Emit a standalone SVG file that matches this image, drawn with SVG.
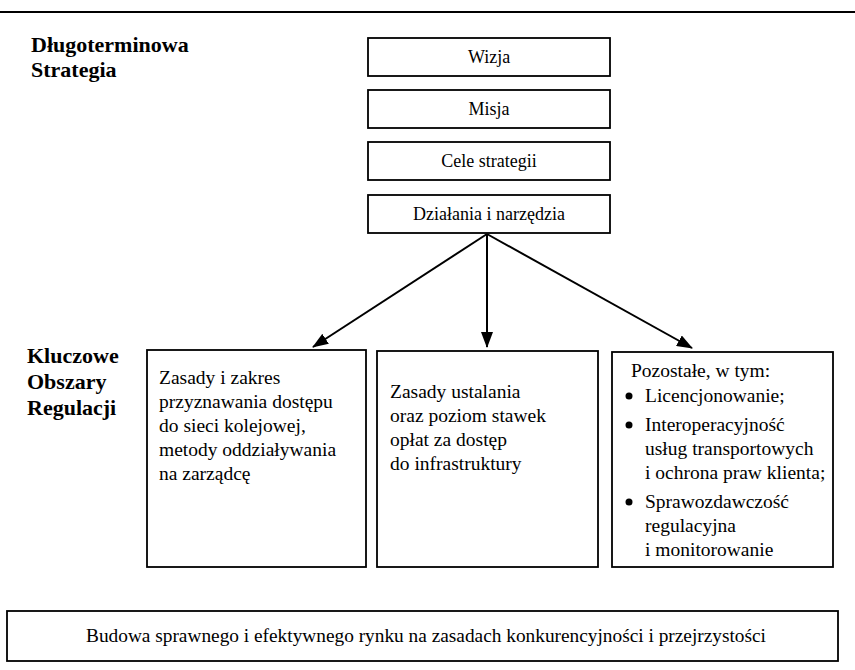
<svg xmlns="http://www.w3.org/2000/svg" width="855" height="670" viewBox="0 0 855 670">
<style>
.box{fill:#fff;stroke:#000;stroke-width:1.8}
.t{font-family:"Liberation Serif","Times New Roman",serif;font-size:18px;fill:#000}
.tc{text-anchor:middle}
.b{font-family:"Liberation Serif","Times New Roman",serif;font-size:22px;font-weight:bold;fill:#000}
.r{font-family:"Liberation Serif","Times New Roman",serif;font-size:19.5px;fill:#000}
.conn{stroke:#000;stroke-width:2;fill:none}
</style>
<defs>
<marker id="ah" markerUnits="userSpaceOnUse" markerWidth="16" markerHeight="12" refX="15" refY="6" orient="auto">
<path d="M0,0 L16,6 L0,12 z" fill="#000"/>
</marker>
</defs>
<rect width="855" height="670" fill="#fff"/>
<line x1="0" y1="12" x2="855" y2="12" stroke="#000" stroke-width="2"/>

<g id="label-strategia">
<text class="b" x="31" y="52">Długoterminowa</text>
<text class="b" x="31" y="77">Strategia</text>
</g>
<g id="label-obszary">
<text class="b" x="27" y="363">Kluczowe</text>
<text class="b" x="27" y="389">Obszary</text>
<text class="b" x="27" y="415">Regulacji</text>
</g>

<g id="wizja">
<rect class="box" x="368" y="38" width="242" height="38"/>
<text class="t tc" x="489" y="63">Wizja</text>
</g>
<g id="misja">
<rect class="box" x="368" y="90" width="242" height="38"/>
<text class="t tc" x="489" y="115">Misja</text>
</g>
<g id="cele">
<rect class="box" x="368" y="142" width="242" height="38"/>
<text class="t tc" x="489" y="167">Cele strategii</text>
</g>
<g id="dzialania">
<rect class="box" x="368" y="195" width="242" height="38"/>
<text class="t tc" x="489" y="220">Działania i narzędzia</text>
</g>

<g id="connectors">
<line class="conn" x1="487" y1="234" x2="313" y2="347" marker-end="url(#ah)"/>
<line class="conn" x1="487" y1="234" x2="487" y2="347" marker-end="url(#ah)"/>
<line class="conn" x1="487" y1="234" x2="692" y2="348" marker-end="url(#ah)"/>
</g>

<g id="obszar-dostep">
<rect class="box" x="147" y="350" width="219" height="217"/>
<text class="r" x="159" y="384">Zasady i zakres</text>
<text class="r" x="159" y="408">przyznawania dostępu</text>
<text class="r" x="159" y="432">do sieci kolejowej,</text>
<text class="r" x="159" y="456">metody oddziaływania</text>
<text class="r" x="159" y="480">na zarządcę</text>
</g>

<g id="obszar-oplaty">
<rect class="box" x="377" y="351" width="221" height="216"/>
<text class="r" x="390" y="398">Zasady ustalania</text>
<text class="r" x="390" y="422">oraz poziom stawek</text>
<text class="r" x="390" y="446">opłat za dostęp</text>
<text class="r" x="390" y="470">do infrastruktury</text>
</g>

<g id="obszar-pozostale">
<rect class="box" x="612" y="352" width="221" height="215"/>
<text class="r" x="631" y="377">Pozostałe, w tym:</text>
<circle cx="629" cy="396" r="3.5" fill="#000"/>
<text class="r" x="645" y="402">Licencjonowanie;</text>
<circle cx="629" cy="425" r="3.5" fill="#000"/>
<text class="r" x="645" y="431">Interoperacyjność</text>
<text class="r" x="645" y="455">usług transportowych</text>
<text class="r" x="645" y="479">i ochrona praw klienta;</text>
<circle cx="629" cy="502" r="3.5" fill="#000"/>
<text class="r" x="645" y="508">Sprawozdawczość</text>
<text class="r" x="645" y="532">regulacyjna</text>
<text class="r" x="645" y="556">i monitorowanie</text>
</g>

<g id="cel-rynek">
<rect class="box" x="7" y="611" width="831" height="50"/>
<text class="t tc" x="426" y="642" style="font-size:19px" textLength="680" lengthAdjust="spacingAndGlyphs">Budowa sprawnego i efektywnego rynku na zasadach konkurencyjności i przejrzystości</text>
</g>
</svg>
